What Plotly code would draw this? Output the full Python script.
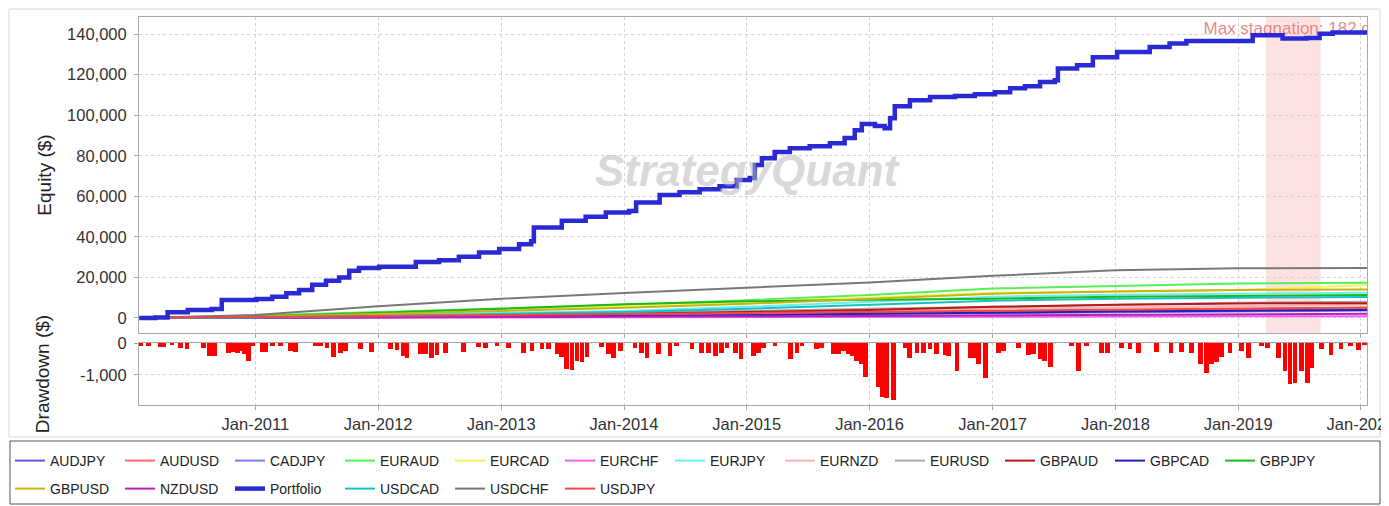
import plotly.graph_objects as go

# ---------------- data ----------------
portfolio_dates = [
    "2010-01-21", "2010-03-10", "2010-04-15", "2010-06-14", "2010-08-24", "2010-09-23",
    "2011-01-04", "2011-02-20", "2011-04-03", "2011-05-11", "2011-06-19", "2011-07-30",
    "2011-09-07", "2011-10-07", "2011-11-05", "2012-01-04", "2012-03-12", "2012-04-22",
    "2012-06-30", "2012-08-28", "2012-10-27", "2012-12-26", "2013-02-23", "2013-03-31",
    "2013-04-08", "2013-06-12", "2013-06-30", "2013-09-09", "2013-11-08", "2014-01-16",
    "2014-02-06", "2014-04-17", "2014-06-15", "2014-08-14", "2014-10-12", "2014-12-02",
    "2015-01-10", "2015-01-25", "2015-02-15", "2015-03-25", "2015-05-09", "2015-07-07",
    "2015-09-05", "2015-10-19", "2015-11-18", "2015-12-09", "2016-01-17", "2016-02-15",
    "2016-03-02", "2016-03-16", "2016-04-30", "2016-06-29", "2016-09-11", "2016-11-09",
    "2017-01-08", "2017-02-22", "2017-04-07", "2017-05-22", "2017-07-05", "2017-07-14",
    "2017-09-09", "2017-10-26", "2018-01-06", "2018-04-13", "2018-06-11", "2018-07-31",
    "2019-01-26", "2019-02-13", "2019-05-13", "2019-07-23", "2019-08-31", "2019-10-09",
    "2020-01-19",
]
portfolio_values = [
    0, 300, 2800, 3900, 4400, 8900,
    9400, 10500, 12200, 13800, 16400, 18400,
    20000, 23300, 24600, 25300, 25300, 27600,
    28500, 30200, 32300, 34000, 36400, 37800,
    44600, 44600, 47900, 49900, 52000, 52800,
    56900, 60600, 62000, 63500, 65000, 68000,
    69000, 75400, 78800, 81800, 83700, 84700,
    86200, 88700, 92600, 95600, 94600, 93600,
    98500, 104400, 107400, 108900, 109400, 110300,
    111300, 113300, 114300, 116300, 117200, 123000,
    124600, 128500, 131200, 133600, 135300, 136600,
    136600, 139400, 137800, 138100, 140200, 140700,
    141900,
]

symbol_dates = ["2010-01-20", "2011-01-01", "2012-01-01", "2013-01-01", "2014-01-01",
                "2015-01-01", "2016-01-01", "2017-01-01", "2018-01-01", "2019-01-01",
                "2020-01-19"]
AUDJPY = [0, 200, 500, 900, 1400, 1900, 2500, 3000, 3500, 3900, 4200]
AUDUSD = [0, 300, 700, 1200, 1700, 2200, 2700, 3200, 3700, 4100, 4400]
CADJPY = [0, 100, 400, 700, 1100, 1500, 2000, 2500, 3000, 3400, 3700]
EURAUD = [0, 1200, 3000, 4800, 6400, 8800, 11300, 14500, 15800, 17000, 17400]
EURCAD = [0, 800, 2500, 4200, 5800, 8000, 10000, 12500, 13000, 13800, 16300]
EURCHF = [0, 50, 100, 200, 300, 400, 500, 600, 700, 800, 900]
EURJPY = [0, 500, 1500, 2500, 3500, 5500, 8000, 10500, 11500, 12000, 12500]
EURNZD = [0, 200, 500, 1000, 1800, 2800, 3800, 4500, 5200, 6000, 6600]
EURUSD = [0, 300, 1000, 1800, 2500, 3500, 4500, 5500, 6500, 7500, 8000]
GBPAUD = [0, 200, 600, 1200, 2000, 3000, 4000, 5500, 6500, 7200, 7300]
GBPCAD = [0, 100, 300, 600, 1000, 1300, 2100, 2800, 3200, 3600, 3900]
GBPJPY = [0, 900, 2600, 4500, 6800, 8200, 9000, 9500, 10500, 11000, 11300]
GBPUSD = [0, 700, 2000, 3500, 5000, 7000, 9500, 12000, 13000, 13800, 14100]
NZDUSD = [0, 100, 200, 400, 600, 800, 1000, 1300, 1600, 1900, 2100]
USDCAD = [0, 300, 1000, 2000, 3000, 4500, 6500, 8500, 9500, 10000, 10400]
USDCHF = [0, 1500, 5800, 9500, 12300, 14800, 17500, 20800, 23500, 24500, 24600]
USDJPY = [0, 400, 900, 1500, 2000, 2500, 3000, 3500, 4200, 4800, 5200]

legend_row1 = ["AUDJPY", "AUDUSD", "CADJPY", "EURAUD", "EURCAD", "EURCHF",
               "EURJPY", "EURNZD", "EURUSD", "GBPAUD", "GBPCAD", "GBPJPY"]
legend_row2 = ["GBPUSD", "NZDUSD", "Portfolio", "USDCAD", "USDCHF", "USDJPY"]

dd_dates = [
    "2010-01-24", "2010-02-18", "2010-03-25", "2010-04-04", "2010-04-28", "2010-05-23",
    "2010-06-12", "2010-07-31", "2010-08-17", "2010-09-02", "2010-10-14", "2010-10-26",
    "2010-11-08", "2010-11-20", "2010-11-30", "2010-12-12", "2010-12-24", "2011-01-21",
    "2011-02-02", "2011-02-21", "2011-03-16", "2011-04-15", "2011-04-30", "2011-06-28",
    "2011-07-13", "2011-08-02", "2011-08-22", "2011-09-11", "2011-09-25", "2011-11-09",
    "2011-12-12", "2012-02-06", "2012-02-26", "2012-03-17", "2012-03-27", "2012-05-05",
    "2012-05-20", "2012-06-07", "2012-06-24", "2012-07-19", "2012-09-11", "2012-10-26",
    "2012-11-15", "2012-12-19", "2013-01-23", "2013-03-08", "2013-04-02", "2013-05-02",
    "2013-05-22", "2013-06-16", "2013-06-30", "2013-07-15", "2013-07-30", "2013-08-14",
    "2013-08-29", "2013-09-13", "2013-10-27", "2013-11-16", "2013-12-01", "2013-12-21",
    "2014-02-03", "2014-02-23", "2014-03-10", "2014-04-14", "2014-05-18", "2014-06-07",
    "2014-07-22", "2014-08-20", "2014-09-09", "2014-09-29", "2014-10-17", "2014-11-03",
    "2014-11-28", "2014-12-15", "2015-01-21", "2015-02-05", "2015-02-20", "2015-03-26",
    "2015-05-10", "2015-05-30", "2015-06-14", "2015-07-28", "2015-08-12", "2015-09-16",
    "2015-10-01", "2015-10-15", "2015-10-30", "2015-11-11", "2015-11-24", "2015-12-09",
    "2015-12-21", "2016-01-27", "2016-02-08", "2016-02-21", "2016-03-12", "2016-04-16",
    "2016-04-28", "2016-05-21", "2016-06-09", "2016-06-29", "2016-07-19", "2016-08-13",
    "2016-08-23", "2016-09-17", "2016-10-26", "2016-11-05", "2016-11-20", "2016-12-10",
    "2017-01-18", "2017-02-02", "2017-03-19", "2017-04-17", "2017-05-02", "2017-05-22",
    "2017-06-04", "2017-06-21", "2017-08-24", "2017-09-13", "2017-10-08", "2017-11-21",
    "2017-12-09", "2018-01-20", "2018-02-13", "2018-03-10", "2018-05-04", "2018-06-15",
    "2018-07-17", "2018-08-16", "2018-09-10", "2018-09-29", "2018-10-14", "2018-10-29",
    "2018-11-13", "2018-12-08", "2019-01-11", "2019-01-31", "2019-03-12", "2019-03-30",
    "2019-04-30", "2019-05-20", "2019-06-04", "2019-06-19", "2019-07-09", "2019-07-27",
    "2019-08-08", "2019-09-06", "2019-10-04", "2019-11-03", "2019-11-30", "2019-12-24",
    "2020-01-11",
]
dd_values = [
    -100, -80, -130, -120, -70, -150,
    -200, -150, -410, -420, -310, -280,
    -300, -250, -340, -570, -90, -270,
    -290, -90, -100, -250, -280, -90,
    -100, -150, -440, -300, -260, -200,
    -280, -200, -220, -410, -460, -340,
    -330, -460, -380, -300, -280, -120,
    -150, -100, -150, -300, -260, -200,
    -200, -350, -450, -800, -850, -550,
    -600, -450, -120, -350, -460, -250,
    -150, -300, -460, -340, -410, -100,
    -200, -300, -300, -410, -300, -150,
    -300, -510, -400, -300, -150, -80,
    -510, -300, -100, -180, -150, -350,
    -330, -250, -350, -420, -560, -670,
    -1060, -1390, -1700, -1720, -1780, -150,
    -460, -300, -320, -200, -350, -380,
    -410, -880, -460, -460, -670, -1080,
    -300, -250, -150, -360, -350, -500,
    -560, -750, -100, -880, -100, -300,
    -300, -150, -200, -300, -280, -300,
    -270, -300, -670, -930, -670, -600,
    -450, -300, -250, -460, -80, -150,
    -460, -880, -1290, -1240, -880, -1240,
    -770, -200, -360, -200, -100, -230,
    -60,
]

eq_tick_vals = [0, 20000, 40000, 60000, 80000, 100000, 120000, 140000]
eq_tick_text = ["0", "20,000", "40,000", "60,000", "80,000", "100,000", "120,000", "140,000"]
dd_tick_vals = [0, -1000]
dd_tick_text = ["0", "-1,000"]

stagnation_start = "2019-03-24"
stagnation_end = "2019-09-03"
stagnation_label = "Max stagnation: 182 days"
stagnation_label_x = "2018-09-20"
stagnation_label_y = 141900
watermark_text = "StrategyQuant"

# ---------------- styling ----------------
FONT = "Liberation Sans, Arial, sans-serif"
colors = {
    "AUDJPY": "#5A5AD0", "AUDUSD": "#FF6A6A", "CADJPY": "#7C7CF4", "EURAUD": "#55F055",
    "EURCAD": "#F4F455", "EURCHF": "#F060F0", "EURJPY": "#66F0F0", "EURNZD": "#FFB0B0",
    "EURUSD": "#A8A8A8", "GBPAUD": "#B81818", "GBPCAD": "#2020B8", "GBPJPY": "#1CB81C",
    "GBPUSD": "#C4B414", "NZDUSD": "#B820B8", "Portfolio": "#2A2AD4", "USDCAD": "#18C0C0",
    "USDCHF": "#787878", "USDJPY": "#F04848",
}
series = {
    "AUDJPY": AUDJPY, "AUDUSD": AUDUSD, "CADJPY": CADJPY, "EURAUD": EURAUD,
    "EURCAD": EURCAD, "EURCHF": EURCHF, "EURJPY": EURJPY, "EURNZD": EURNZD,
    "EURUSD": EURUSD, "GBPAUD": GBPAUD, "GBPCAD": GBPCAD, "GBPJPY": GBPJPY,
    "GBPUSD": GBPUSD, "NZDUSD": NZDUSD, "USDCAD": USDCAD, "USDCHF": USDCHF,
    "USDJPY": USDJPY,
}

# page is rendered with an 8px body margin, so the figure is 8px smaller
OFF = 8
W, H = 1389 - OFF, 506 - OFF
PLOT_L, PLOT_R, PLOT_T, PLOT_B = 139, 1367, 17, 405   # page pixels of the plot area
ML, MT = PLOT_L - OFF, PLOT_T - OFF
MR, MB = W - (PLOT_R - OFF), H - (PLOT_B - OFF)
PW, PH = PLOT_R - PLOT_L, PLOT_B - PLOT_T


def px2x(px):
    return (px - PLOT_L) / PW


def py2y(py):
    return (PLOT_B - py) / PH


fig = go.Figure()

# secondary (per-symbol) equity lines
for name, vals in series.items():
    in_row1 = name in legend_row1
    rank = (legend_row1.index(name) if in_row1 else legend_row2.index(name)) + 1
    fig.add_trace(go.Scatter(
        x=symbol_dates, y=vals, name=name, mode="lines",
        line=dict(color=colors[name], width=2),
        legend="legend" if in_row1 else "legend2", legendrank=rank,
        xaxis="x", yaxis="y",
    ))

# stagnation label (clipped by plot area like the original)
fig.add_trace(go.Scatter(
    x=[stagnation_label_x], y=[stagnation_label_y], mode="text",
    text=[stagnation_label], textposition="middle right",
    textfont=dict(family=FONT, size=17, color="rgba(236,112,112,0.85)"),
    cliponaxis=True, showlegend=False, hoverinfo="skip", xaxis="x", yaxis="y",
))

# portfolio
fig.add_trace(go.Scatter(
    x=portfolio_dates, y=portfolio_values, name="Portfolio", mode="lines",
    line=dict(color=colors["Portfolio"], width=4.5, shape="hv"),
    legend="legend2", legendrank=legend_row2.index("Portfolio") + 1,
    xaxis="x", yaxis="y",
))

# drawdown
fig.add_trace(go.Bar(
    x=dd_dates, y=dd_values, name="Drawdown", showlegend=False,
    marker=dict(color="#FF0000", line=dict(width=0)),
    width=14 * 86400000, xaxis="x2", yaxis="y2",
))

TICK_SIZE = 16.5
grid = dict(showgrid=True, gridcolor="#D4D4D4", griddash="3px,3px", gridwidth=1,
            showline=True, mirror=True, linecolor="#A8A8A8", linewidth=1,
            zeroline=False, ticks="outside", ticklen=4, tickcolor="#A8A8A8",
            tickfont=dict(family=FONT, size=TICK_SIZE, color="#333333"))
title_font = dict(family=FONT, size=19, color="#222222")
legend_font = dict(family=FONT, size=14, color="#222222")

fig.update_layout(
    width=W, height=H,
    margin=dict(l=ML, r=MR, t=MT, b=MB, autoexpand=False),
    paper_bgcolor="white", plot_bgcolor="white",
    font=dict(family=FONT, size=13, color="#333333"),
    xaxis=dict(domain=[0, 1], anchor="y", type="date",
               range=["2010-01-20", "2020-01-19"], dtick="M12", tick0="2011-01-01",
               showticklabels=False, **grid),
    yaxis=dict(domain=[py2y(333), 1], anchor="x", range=[-7400, 148400],
               tickvals=eq_tick_vals, ticktext=eq_tick_text, ticklabelstandoff=4,
               title=dict(text="Equity ($)", standoff=10, font=title_font),
               **grid),
    xaxis2=dict(domain=[0, 1], anchor="y2", type="date", matches="x",
                dtick="M12", tick0="2011-01-01", tickformat="%b-%Y",
                ticklabeloverflow="allow", **grid),
    yaxis2=dict(domain=[0, py2y(343)], anchor="x2", range=[-1940, 0],
                tickvals=dd_tick_vals, ticktext=dd_tick_text, ticklabelstandoff=4,
                title=dict(text="Drawdown ($)", standoff=25, font=title_font),
                **grid),
    legend=dict(orientation="h", x=px2x(10), xanchor="left", y=py2y(445), yanchor="top",
                font=legend_font, entrywidth=65, entrywidthmode="pixels",
                bgcolor="rgba(0,0,0,0)", itemwidth=30, itemclick=False),
    legend2=dict(orientation="h", x=px2x(10), xanchor="left", y=py2y(473), yanchor="top",
                 font=legend_font, entrywidth=65, entrywidthmode="pixels",
                 bgcolor="rgba(0,0,0,0)", itemwidth=30, itemclick=False),
    showlegend=True,
    bargap=0,
)

# stagnation band
fig.add_shape(type="rect", xref="x", yref="y domain",
              x0=stagnation_start, x1=stagnation_end, y0=0, y1=1,
              fillcolor="rgba(250,190,190,0.45)", line=dict(width=0), layer="below")

# outer chart frame and legend frame
fig.add_shape(type="rect", xref="paper", yref="paper",
              x0=px2x(9), x1=px2x(1380), y0=py2y(437), y1=py2y(9),
              line=dict(color="#D8D8D8", width=1), fillcolor="rgba(0,0,0,0)", layer="below")
fig.add_shape(type="rect", xref="paper", yref="paper",
              x0=px2x(10), x1=px2x(1380), y0=py2y(504), y1=py2y(441),
              line=dict(color="#555555", width=1), fillcolor="rgba(0,0,0,0)")

# watermark
fig.add_annotation(text="<b><i>" + watermark_text + "</i></b>", xref="paper", yref="paper",
                   x=px2x(748), y=py2y(170), showarrow=False,
                   font=dict(family=FONT, size=44, color="rgba(185,185,185,0.55)"))

fig.write_html("out.html")
